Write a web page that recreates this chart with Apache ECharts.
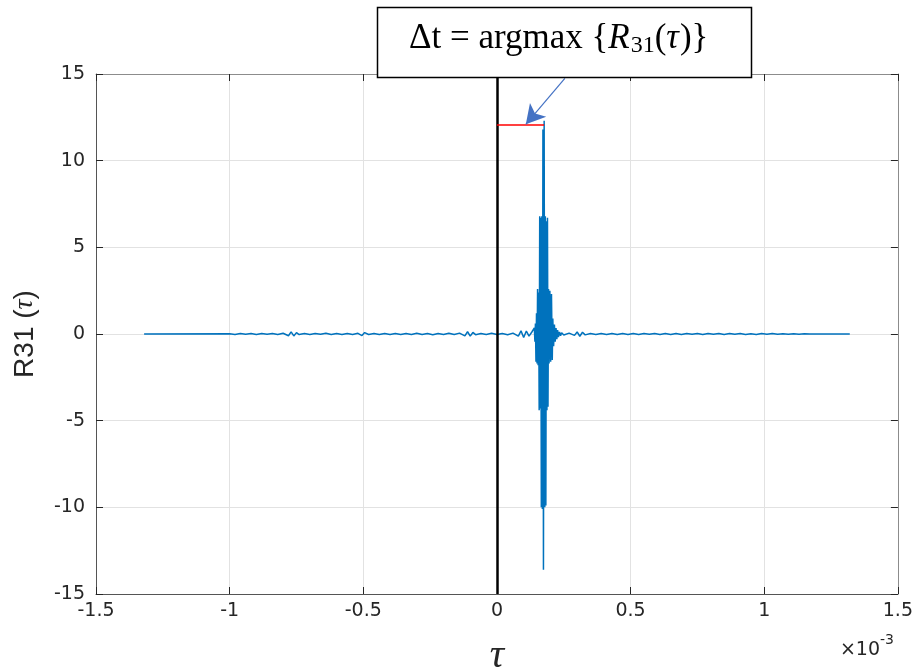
<!DOCTYPE html>
<html>
<head>
<meta charset="utf-8">
<script src="https://cdn.jsdelivr.net/npm/echarts@6/dist/echarts.min.js"></script>
<style>
  html, body { margin: 0; padding: 0; background: #ffffff; }
  #chart { width: 916px; height: 670px; }
</style>
</head>
<body>
<div id="chart"></div>
<script>
// Cross-correlation R31(tau); tau in units of 1e-3 s.
// Baseline before the main lobe
const tauPre = [-1.32, -1.00, -0.98, -0.96, -0.94, -0.92, -0.90, -0.88, -0.86, -0.84, -0.82, -0.80, -0.78,
  -0.77, -0.76, -0.75, -0.74, -0.72, -0.70, -0.68, -0.66, -0.64, -0.62, -0.60, -0.58, -0.56, -0.54, -0.52,
  -0.505, -0.495, -0.48, -0.46, -0.44, -0.42, -0.40, -0.38, -0.36, -0.34, -0.32, -0.30, -0.28, -0.26, -0.24,
  -0.22, -0.20, -0.18, -0.16, -0.14, -0.12, -0.11, -0.10, -0.09, -0.08, -0.06, -0.04, -0.02, 0.00, 0.02, 0.04,
  0.06, 0.08, 0.09, 0.10, 0.11, 0.12, 0.13];
const valPre = [0, 0.02, -0.03, 0.03, -0.02, 0.03, -0.03, 0.03, -0.02, 0.03, -0.03, 0.04, -0.10,
  0.12, -0.11, 0.08, -0.03, 0.03, -0.03, 0.03, -0.02, 0.04, -0.03, 0.03, -0.03, 0.03, -0.03, 0.04,
  -0.09, 0.08, -0.03, 0.03, -0.03, 0.03, -0.03, 0.03, -0.03, 0.03, -0.03, 0.04, -0.03, 0.03, -0.04,
  0.03, -0.03, 0.04, -0.03, 0.05, -0.11, 0.13, -0.12, 0.09, -0.04, 0.03, -0.03, 0.04, -0.03, 0.03, -0.04,
  0.05, -0.12, 0.18, -0.20, 0.17, -0.12, 0.10];

// Main lobe around the correlation peak
const tauBurst = [0.140, 0.142, 0.144, 0.146, 0.148, 0.150, 0.152, 0.154, 0.156, 0.158, 0.160, 0.162, 0.164,
  0.166, 0.168, 0.170, 0.172, 0.174, 0.1766, 0.179, 0.181, 0.183, 0.185, 0.187, 0.189, 0.191, 0.193, 0.195,
  0.198, 0.201, 0.204, 0.207, 0.209, 0.212, 0.215, 0.218, 0.221, 0.224, 0.227, 0.230, 0.234, 0.238, 0.242];
const valBurst = [0.35, -0.45, 0.6, -1.6, 1.2, -1.7, 2.6, -1.8, 2.4, -4.4, 6.8, -4.3, 6.7,
  -10.0, 6.8, -10.1, 11.8, -13.6, 12.3, -10.0, 6.8, -9.9, 6.5, -4.4, 6.7, -4.2, 2.6, -1.7,
  2.5, -1.6, 2.3, -1.5, 0.9, -0.7, 0.55, -0.45, 0.35, -0.3, 0.22, -0.18, 0.12, -0.1, 0.07];

// Baseline after the main lobe
const tauPost = [0.25, 0.27, 0.29, 0.30, 0.31, 0.32, 0.33, 0.35, 0.37, 0.39, 0.41, 0.43, 0.45, 0.47, 0.49,
  0.51, 0.53, 0.55, 0.57, 0.59, 0.61, 0.63, 0.65, 0.67, 0.69, 0.71, 0.73, 0.75, 0.77, 0.79, 0.81, 0.83, 0.85,
  0.87, 0.89, 0.91, 0.93, 0.95, 0.97, 0.99, 1.01, 1.03, 1.05, 1.07, 1.09, 1.11, 1.13, 1.15, 1.17, 1.32];
const valPost = [-0.06, 0.05, -0.08, 0.12, -0.13, 0.10, -0.05, 0.03, -0.03, 0.03, -0.03, 0.03, -0.03, 0.03, -0.03,
  0.03, -0.03, 0.03, -0.02, 0.03, -0.03, 0.03, -0.03, 0.03, -0.03, 0.03, -0.02, 0.03, -0.03, 0.03, -0.02, 0.03, -0.03,
  0.03, -0.02, 0.03, -0.03, 0.02, -0.03, 0.03, -0.02, 0.03, -0.02, 0.02, -0.02, 0.02, -0.01, 0.01, 0, 0];

// Peak location / value used by the delay marker
const peakTau = 0.1766;
const markerLevel = 12.1;

const data = [];
[[tauPre, valPre], [tauBurst, valBurst], [tauPost, valPost]].forEach(function (pair) {
  pair[0].forEach(function (t, i) { data.push([t, pair[1][i]]); });
});

const AX = '#262626';
const tickFont = { fontFamily: '"DejaVu Sans", sans-serif', fontSize: 19, color: AX };

function mkAxis(pos, min, max, step, main) {
  return {
    type: 'value', position: pos, min: min, max: max, interval: step,
    axisLine: { show: true, onZero: false, lineStyle: { color: main ? '#555555' : '#8c8c8c', width: 1 } },
    axisTick: { show: true, inside: true, length: 7, lineStyle: { color: AX, width: 1 } },
    axisLabel: main ? Object.assign({ margin: pos === 'left' ? 11 : 8 }, tickFont) : { show: false },
    splitLine: { show: main, lineStyle: { color: '#e2e2e2', width: 1 } }
  };
}

const chart = echarts.init(document.getElementById('chart'), null, { renderer: 'canvas' });

const yAx = mkAxis('left', -15, 15, 5, true);
yAx.name = '{a|R31 (}{b|τ}{a|)}';
yAx.nameLocation = 'middle';
yAx.nameGap = 57;
yAx.nameTextStyle = {
  rich: {
    a: { fontFamily: '"Liberation Sans", Arial, sans-serif', fontSize: 28, color: AX },
    b: { fontFamily: '"Liberation Serif", serif', fontStyle: 'italic', fontSize: 28, color: AX }
  }
};

// Annotation text runs laid out with canvas metrics
const serif = '"Liberation Serif", "Times New Roman", serif';
const runs = [
  { text: 'Δt = argmax {', size: 35, style: 'normal', dy: 0 },
  { text: 'R', size: 35, style: 'italic', dy: 0 },
  { text: '31', size: 24, style: 'normal', dy: 7 },
  { text: '(', size: 35, style: 'normal', dy: 0 },
  { text: 'τ', size: 35, style: 'italic', dy: 0 },
  { text: ')}', size: 35, style: 'normal', dy: 0 }
];
const mctx = document.createElement('canvas').getContext('2d');
let cursor = 409;
const textEls = runs.map(function (r) {
  mctx.font = r.style + ' ' + r.size + 'px ' + serif;
  const w = mctx.measureText(r.text).width;
  const el = {
    type: 'text', x: cursor, y: 39 + r.dy, z: 101,
    style: {
      text: r.text, fontFamily: serif, fontSize: r.size, fontStyle: r.style,
      fill: '#000000', align: 'left', verticalAlign: 'middle'
    }
  };
  cursor += w + (r.style === 'italic' ? 1 : 0);
  return el;
});

chart.setOption({
  animation: false,
  backgroundColor: '#ffffff',
  grid: { left: 96, right: 18, top: 74, bottom: 76, containLabel: false },
  xAxis: [mkAxis('bottom', -1.5, 1.5, 0.5, true), mkAxis('top', -1.5, 1.5, 0.5, false)],
  yAxis: [yAx, mkAxis('right', -15, 15, 5, false)],
  series: [{
    type: 'line', xAxisIndex: 0, yAxisIndex: 0, data: data,
    showSymbol: false, symbol: 'none', silent: true,
    lineStyle: { color: '#0072BD', width: 1.5 },
    markLine: {
      silent: true, animation: false,
      label: { show: false },
      emphasis: { disabled: true },
      data: [
        [{ coord: [0, -15], symbol: 'none', lineStyle: { color: '#000000', width: 2.5, type: 'solid' } },
         { coord: [0, 15], symbol: 'none' }],
        [{ coord: [0, markerLevel], symbol: 'none', lineStyle: { color: '#ff0000', width: 1.5, type: 'solid' } },
         { coord: [peakTau, markerLevel], symbol: 'none' }],
        [{ coord: [0.254, 14.75], symbol: 'none', lineStyle: { color: '#4472C4', width: 1.2, type: 'solid' } },
         { coord: [0.108, markerLevel], symbol: 'arrow', symbolSize: [16, 19] }]
      ]
    }
  }],
  graphic: [
    { type: 'rect', z: 100, shape: { x: 377.5, y: 7.5, width: 374, height: 70 },
      style: { fill: '#ffffff', stroke: '#000000', lineWidth: 1.5 } }
  ].concat(textEls).concat([
    { type: 'text', x: 497, y: 656, z: 100,
      style: { text: 'τ', fontFamily: serif, fontStyle: 'italic', fontSize: 40, fill: AX, align: 'center', verticalAlign: 'middle' } },
    { type: 'text', x: 880, y: 650, z: 100,
      style: { text: '×10', fontFamily: '"DejaVu Sans", sans-serif', fontSize: 19, fill: AX, align: 'right', verticalAlign: 'middle' } },
    { type: 'text', x: 880, y: 640, z: 100,
      style: { text: '-3', fontFamily: '"DejaVu Sans", sans-serif', fontSize: 14, fill: AX, align: 'left', verticalAlign: 'middle' } }
  ])
});
</script>
</body>
</html>
